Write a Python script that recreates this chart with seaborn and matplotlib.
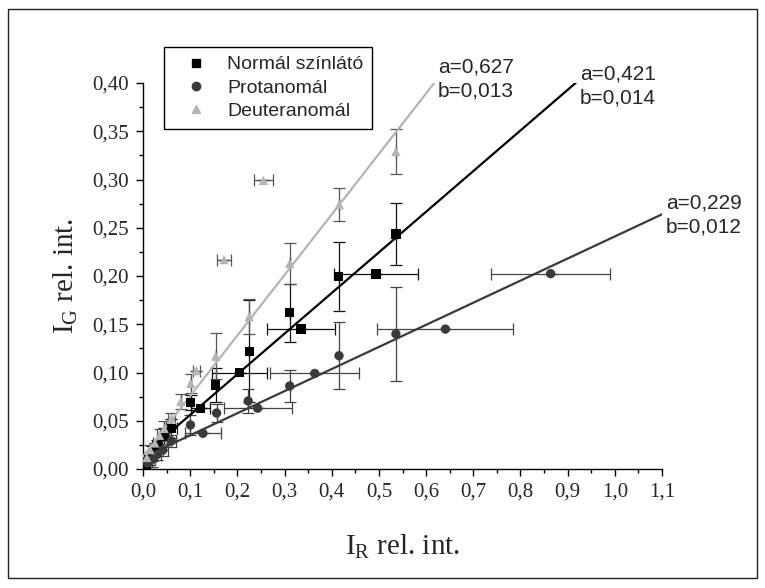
import matplotlib
matplotlib.use('Agg')
import matplotlib.pyplot as plt
import matplotlib.ticker as mticker
from matplotlib.lines import Line2D
from matplotlib.patches import Rectangle
import numpy as np
import pandas as pd
import seaborn as sns

# Normál színlátó (squares)
normal_x = [0.536, 0.494, 0.415, 0.311, 0.335, 0.225, 0.205, 0.154, 0.101, 0.122, 0.060, 0.045, 0.030, 0.020, 0.012, 0.008]
normal_y = [0.2435, 0.202, 0.1997, 0.162, 0.145, 0.122, 0.0998, 0.087, 0.069, 0.063, 0.042, 0.034, 0.024, 0.016, 0.010, 0.005]
normal_xerr = [0, 0.089, 0, 0, 0.072, 0, 0.058, 0, 0, 0.02, 0.012, 0.008, 0.01, 0.006, 0.004, 0.003]
normal_yerr = [0.032, 0, 0.036, 0.030, 0, 0.053, 0, 0.018, 0.008, 0, 0.01, 0.008, 0.006, 0.008, 0.006, 0.005]

# Protanomál (circles)
prot_x = [0.864, 0.641, 0.536, 0.4155, 0.364, 0.311, 0.243, 0.223, 0.156, 0.127, 0.1006, 0.060, 0.042, 0.030, 0.020, 0.010]
prot_y = [0.2024, 0.145, 0.140, 0.1174, 0.099, 0.086, 0.063, 0.0705, 0.058, 0.037, 0.0456, 0.029, 0.0197, 0.015, 0.010, 0.006]
prot_xerr = [0.126, 0.144, 0, 0, 0.094, 0, 0.072, 0, 0, 0.038, 0, 0.01, 0.012, 0.008, 0.006, 0.004]
prot_yerr = [0, 0, 0.049, 0.035, 0, 0.017, 0, 0.012, 0.009, 0, 0.01, 0.006, 0.006, 0.006, 0.008, 0.006]

# Deuteranomál (triangles)
deut_x = [0.536, 0.416, 0.311, 0.255, 0.1716, 0.225, 0.154, 0.113, 0.101, 0.080, 0.060, 0.045, 0.035, 0.025, 0.015, 0.008]
deut_y = [0.329, 0.274, 0.213, 0.299, 0.217, 0.158, 0.117, 0.102, 0.0888, 0.070, 0.052, 0.042, 0.035, 0.027, 0.020, 0.012]
deut_xerr = [0, 0, 0, 0.02, 0.014, 0, 0, 0.008, 0, 0, 0.008, 0, 0.006, 0.004, 0, 0]
deut_yerr = [0.023, 0.017, 0.021, 0, 0, 0.018, 0.024, 0, 0.01, 0.008, 0.006, 0.008, 0.006, 0, 0.005, 0.004]

# linear fits y = a*x + b
fit_names = ['Normál színlátó', 'Protanomál', 'Deuteranomál']
fit_a = [0.421, 0.229, 0.627]
fit_b = [0.014, 0.012, 0.013]
fit_xmax = [0.917, 1.1, 0.617]

x_ticks = [0.0, 0.1, 0.2, 0.3, 0.4, 0.5, 0.6, 0.7, 0.8, 0.9, 1.0, 1.1]
y_ticks = [0.00, 0.05, 0.10, 0.15, 0.20, 0.25, 0.30, 0.35, 0.40]

colors = {'Normál színlátó': '#000000', 'Protanomál': '#3a3a3a', 'Deuteranomál': '#b4b4b4'}
ecolors = {'Normál színlátó': '#111111', 'Protanomál': '#444444', 'Deuteranomál': '#555555'}
markers = {'Normál színlátó': 's', 'Protanomál': 'o', 'Deuteranomál': '^'}

frames = []
for name, xs, ys, xe, ye in [
    ('Normál színlátó', normal_x, normal_y, normal_xerr, normal_yerr),
    ('Protanomál', prot_x, prot_y, prot_xerr, prot_yerr),
    ('Deuteranomál', deut_x, deut_y, deut_xerr, deut_yerr),
]:
    frames.append(pd.DataFrame({'x': xs, 'y': ys, 'xerr': xe, 'yerr': ye, 'group': name}))
df = pd.concat(frames, ignore_index=True)

sns.set_style('ticks')
plt.rcParams['font.family'] = ['Liberation Serif', 'DejaVu Serif']
plt.rcParams['mathtext.fontset'] = 'custom'
plt.rcParams['mathtext.rm'] = 'Liberation Serif'

W, H = 765, 588
fig = plt.figure(figsize=(W / 100, H / 100), dpi=100)
ax = fig.add_axes([143 / W, 1 - 469 / H, (662 - 143) / W, (469 - 83) / H])

# error bars
for name, g in df.groupby('group', sort=False):
    ax.errorbar(g['x'], g['y'], xerr=g['xerr'], yerr=g['yerr'], fmt='none',
                ecolor=ecolors[name], elinewidth=0.9, capsize=4.5, capthick=0.9, zorder=2)

# fit lines
for name, a, b, xm in zip(fit_names, fit_a, fit_b, fit_xmax):
    lx = np.array([0.0, xm])
    sns.lineplot(x=lx, y=a * lx + b, ax=ax, color=colors[name], lw=1.6, zorder=3)

# points
sns.scatterplot(data=df, x='x', y='y', hue='group', style='group',
                palette=colors, markers=markers, s=45, edgecolor='none',
                legend=False, ax=ax, zorder=4)

ax.set_xlim(0, 1.1)
ax.set_ylim(0, 0.40)
ax.set_xticks(x_ticks)
ax.set_yticks(y_ticks)
ax.xaxis.set_minor_locator(mticker.MultipleLocator(0.05))
ax.yaxis.set_minor_locator(mticker.MultipleLocator(0.025))
ax.xaxis.set_major_formatter(mticker.FuncFormatter(lambda v, p: f'{v:.1f}'.replace('.', ',')))
ax.yaxis.set_major_formatter(mticker.FuncFormatter(lambda v, p: f'{v:.2f}'.replace('.', ',')))
ax.tick_params(which='major', direction='out', length=5, width=1, labelsize=15, color='black', pad=5)
ax.tick_params(which='minor', direction='out', length=3, width=1, color='black')
sns.despine(ax=ax)
for s in ['left', 'bottom']:
    ax.spines[s].set_linewidth(1.0)
    ax.spines[s].set_color('black')

ax.set_xlabel(r'I$_{\mathregular{R}}$ rel. int.', fontsize=21, labelpad=22)
ax.set_ylabel(r'I$_{\mathregular{G}}$ rel. int.', fontsize=21, labelpad=9)

# fit annotations
ann_pos = [(580, 86), (666, 215), (438, 79)]
for (px, py), a, b in zip(ann_pos, fit_a, fit_b):
    txt = f'a={a:.3f}\nb={b:.3f}'.replace('.', ',')
    fig.text(px / W, 1 - py / H, txt, fontsize=15, family='Liberation Sans',
             va='center', ha='left', linespacing=1.3)

# legend
handles = [Line2D([], [], ls='none', marker=markers[n], color=colors[n], markersize=6)
           for n in fit_names]
leg = fig.legend(handles, fit_names, loc='upper left', bbox_to_anchor=(164 / W, 1 - 47 / H),
                 bbox_transform=fig.transFigure, frameon=True, fancybox=False,
                 edgecolor='black', framealpha=1, borderaxespad=0,
                 prop={'family': 'Liberation Sans', 'size': 14},
                 handlelength=2.4, handletextpad=0.4, labelspacing=0.3, borderpad=0.45)
leg.get_frame().set_linewidth(1.0)

# outer frame of the figure
fig.patches.append(Rectangle((8 / W, 1 - 578 / H), (757 - 8) / W, (578 - 9) / H,
                             transform=fig.transFigure, fill=False, edgecolor='#222222', lw=1.0))

fig.savefig('out.png', dpi=100)
